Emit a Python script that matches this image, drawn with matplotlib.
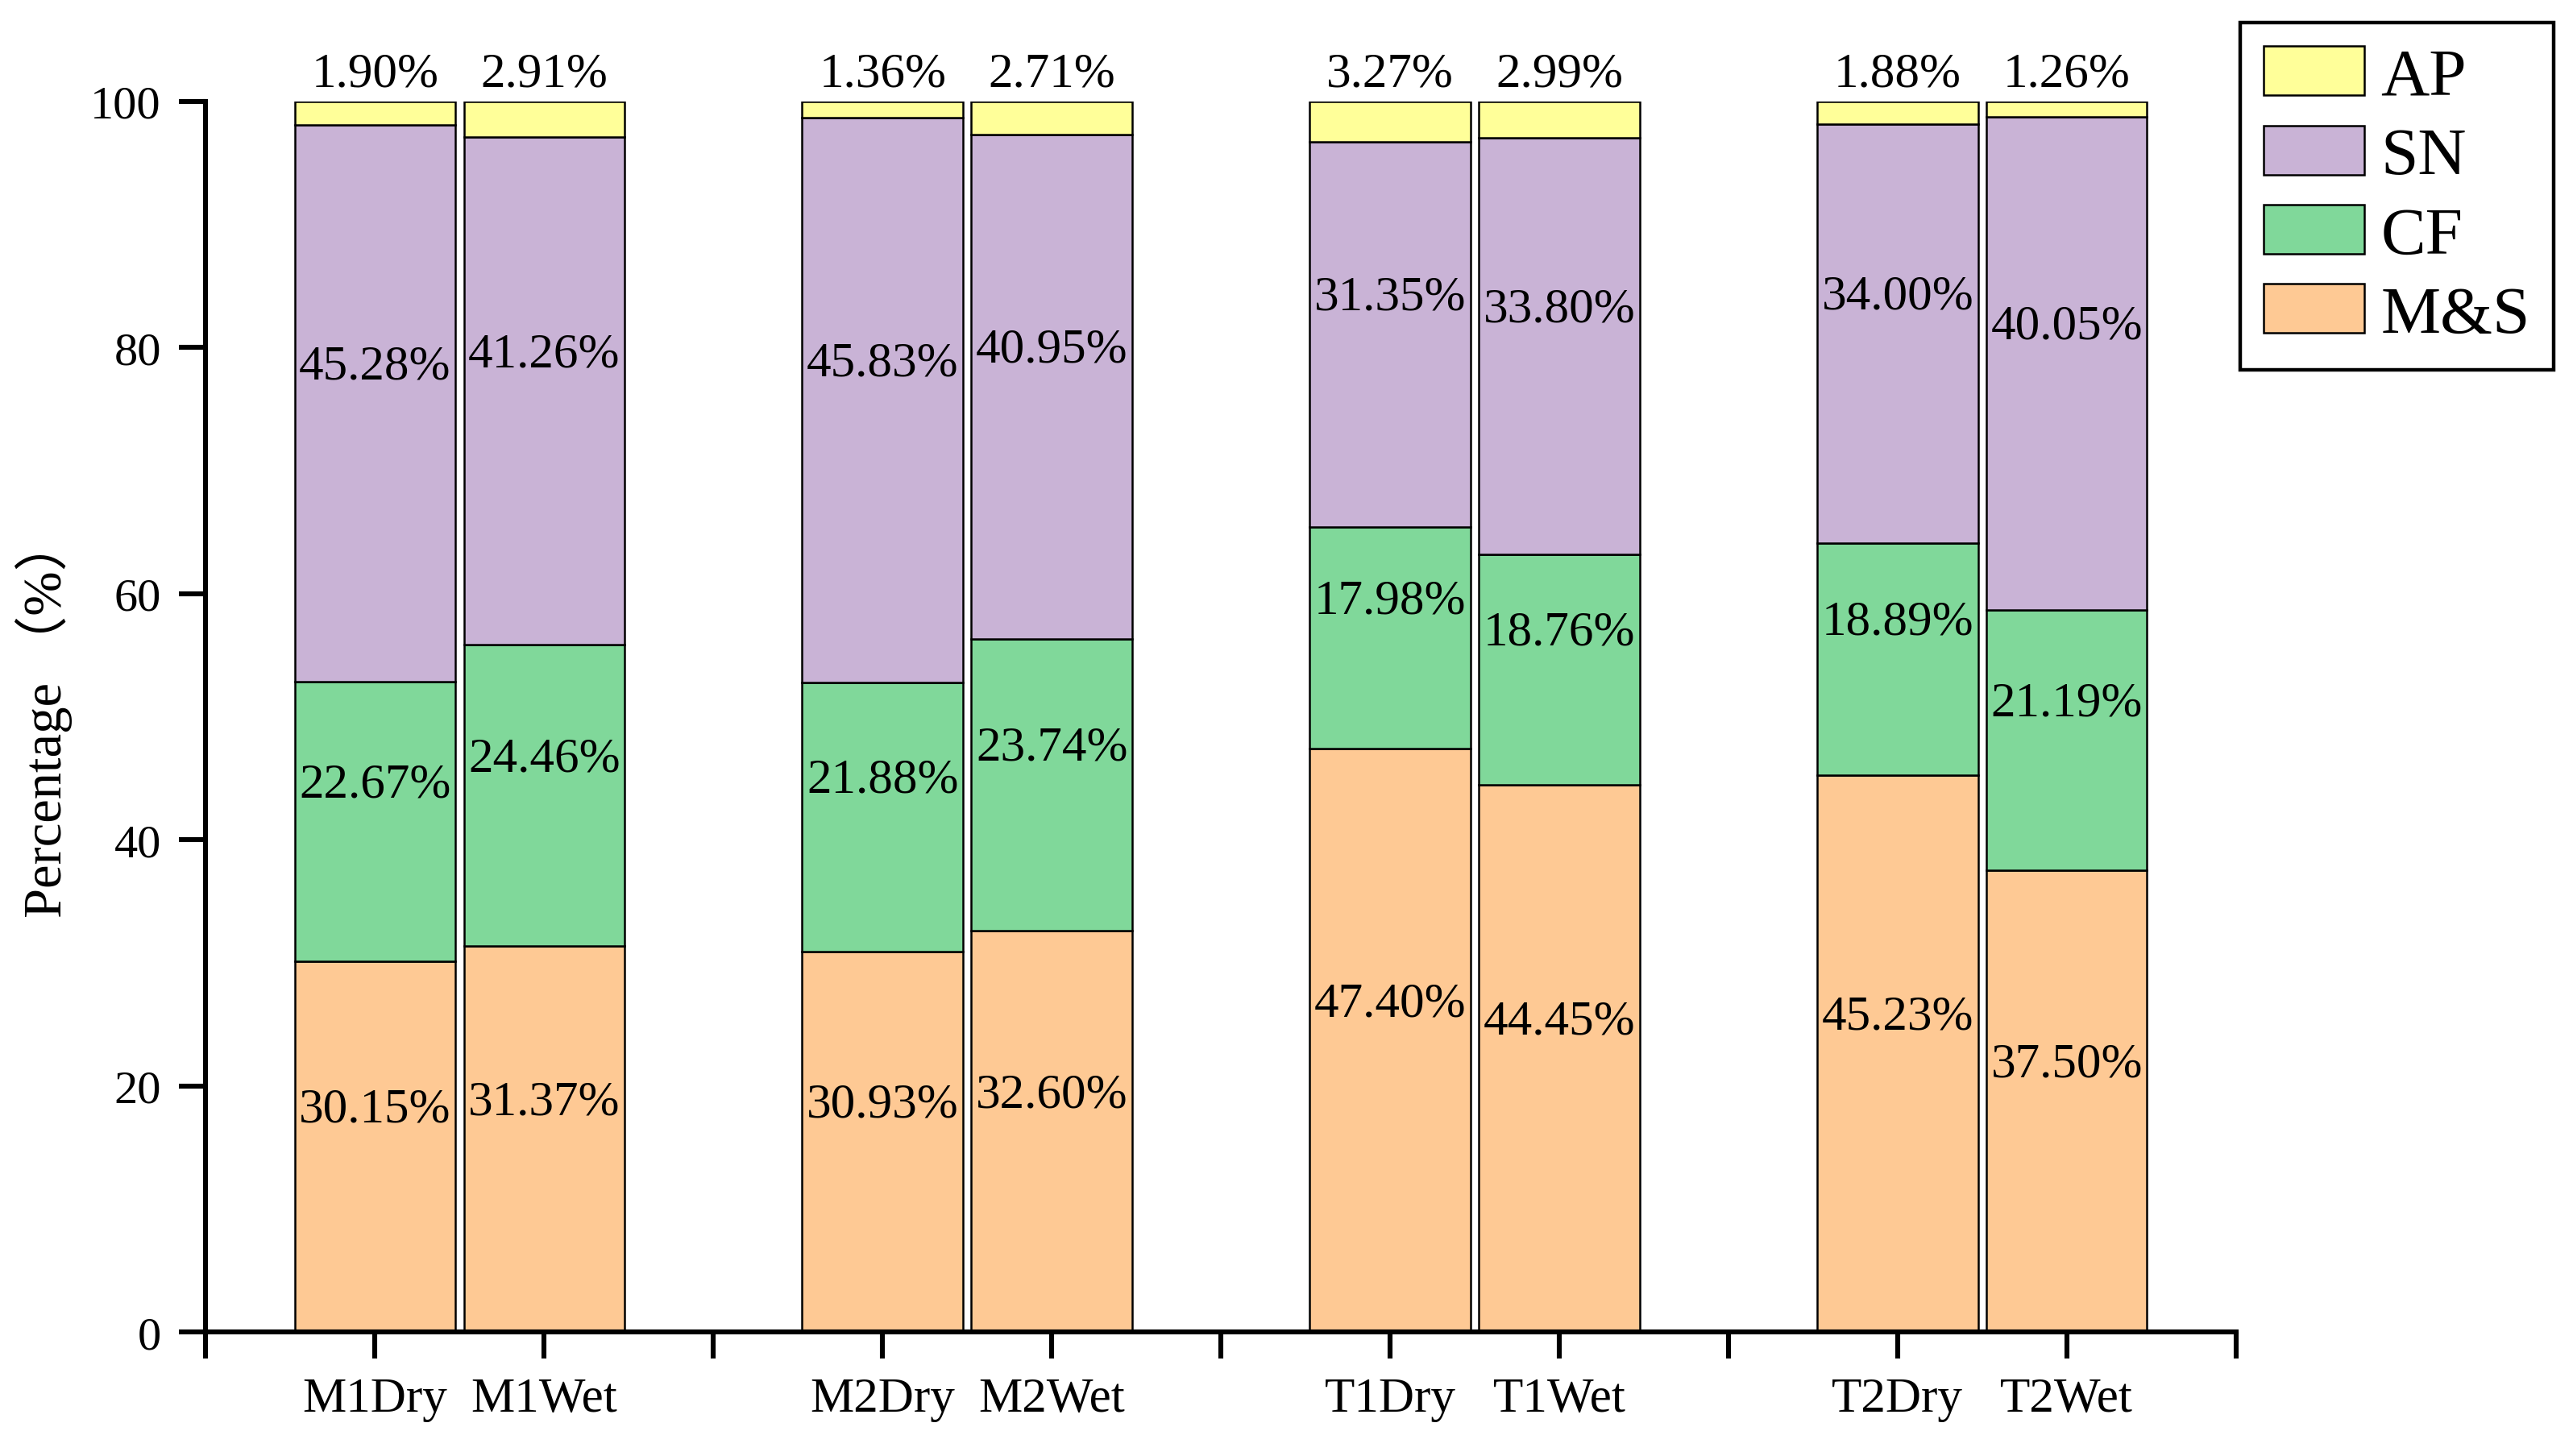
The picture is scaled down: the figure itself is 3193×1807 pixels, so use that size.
import numpy as np
import matplotlib
matplotlib.use('Agg')
import matplotlib.pyplot as plt

plt.rcParams['font.family'] = ['Liberation Serif', 'Noto Sans CJK SC']

# Data (percent)
samples = ['M1Dry', 'M1Wet', 'M2Dry', 'M2Wet', 'T1Dry', 'T1Wet', 'T2Dry', 'T2Wet']
ms = [30.15, 31.37, 30.93, 32.60, 47.40, 44.45, 45.23, 37.50]
cf = [22.67, 24.46, 21.88, 23.74, 17.98, 18.76, 18.89, 21.19]
sn = [45.28, 41.26, 45.83, 40.95, 31.35, 33.80, 34.00, 40.05]
ap = [1.90, 2.91, 1.36, 2.71, 3.27, 2.99, 1.88, 1.26]

series = [('M&S', ms, '#FEC994'), ('CF', cf, '#80D89A'),
          ('SN', sn, '#C9B3D6'), ('AP', ap, '#FFFF99')]

# bar positions: pairs with one empty slot between groups
x = np.array([1, 2, 4, 5, 7, 8, 10, 11])

fig = plt.figure(figsize=(3193 / 200, 1808 / 200), dpi=200)
ax = fig.add_axes([0.080, 0.085, 0.789, 0.845])

bottom = np.zeros(len(x))
handles = {}
for name, vals, color in series:
    vals = np.array(vals)
    b = ax.bar(x, vals, width=0.95, bottom=bottom, color=color,
               edgecolor='black', linewidth=0.9, label=name)
    handles[name] = b
    if name != 'AP':
        for xi, bt, v in zip(x, bottom, vals):
            ax.text(xi, bt + v / 2 + 3, f'{v:.2f}%', ha='center', va='center',
                    fontsize=22)
    else:
        for xi, v in zip(x, vals):
            ax.text(xi, 100.4, f'{v:.2f}%', ha='center', va='bottom',
                    fontsize=22)
    bottom += vals

ax.set_xlim(0, 12)
ax.set_ylim(0, 100)
ax.set_xticks(np.arange(0, 13))
ax.set_xticklabels([''] * 13)
for xi, s in zip(x, samples):
    ax.text(xi, -0.054, s, transform=ax.get_xaxis_transform(), ha='center',
            va='center', fontsize=22)
ax.set_yticks(np.arange(0, 101, 20))
ax.tick_params(axis='both', direction='out', length=12, width=2.2,
               labelsize=21, pad=8)
for sp in ['top', 'right']:
    ax.spines[sp].set_visible(False)
for sp in ['left', 'bottom']:
    ax.spines[sp].set_linewidth(2.2)

ax.set_ylabel('Percentage （%）', fontsize=24, labelpad=8,
              family=['Liberation Serif', 'Noto Sans CJK SC'])

leg = fig.legend([handles[n] for n in ['AP', 'SN', 'CF', 'M&S']],
                 ['AP', 'SN', 'CF', 'M&S'], loc='upper right',
                 bbox_to_anchor=(0.9925, 0.984), fontsize=30,
                 handlelength=1.5, handleheight=0.75, labelspacing=0.25,
                 fancybox=False, edgecolor='black', framealpha=1,
                 borderpad=0.35, handletextpad=0.25, borderaxespad=0)
leg.get_frame().set_linewidth(1.6)

fig.savefig('out.png', dpi=200)
